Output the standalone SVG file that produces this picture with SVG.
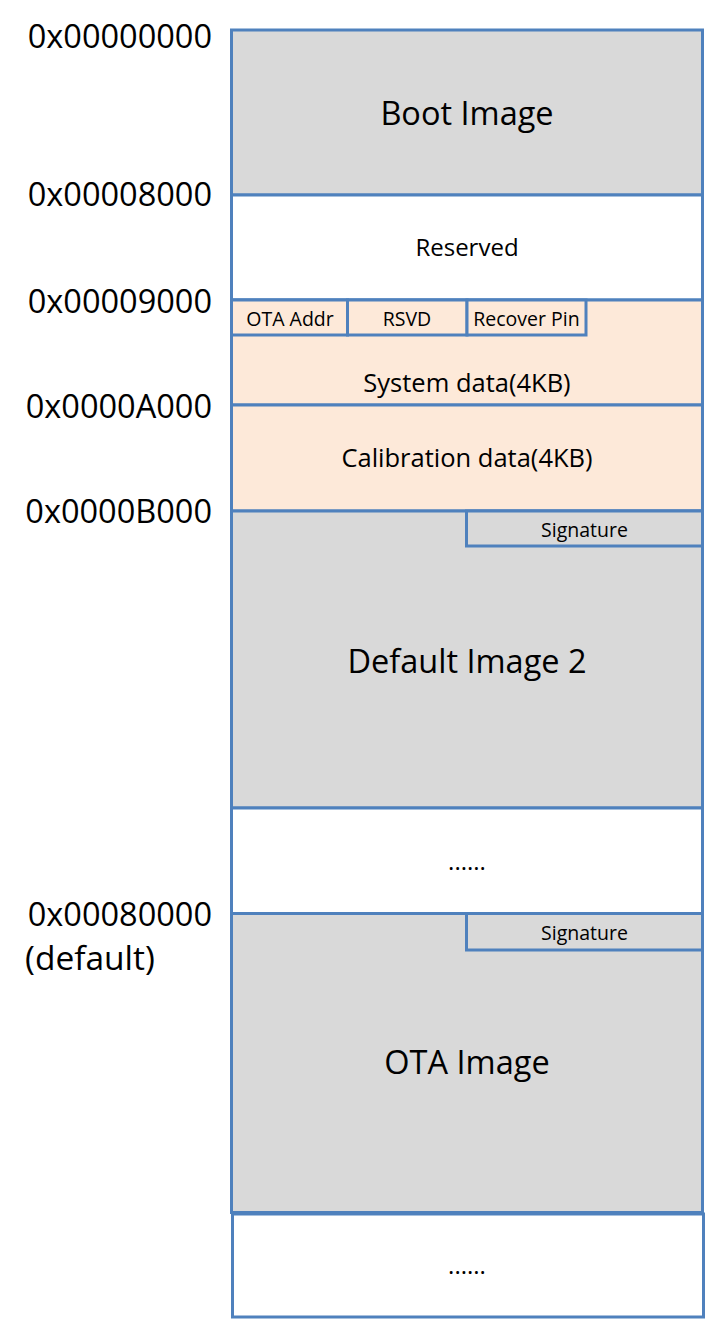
<svg xmlns="http://www.w3.org/2000/svg" width="707" height="1321" viewBox="0 0 707 1321">
<style>
  .blk { stroke: #4F81BD; stroke-width: 3; }
  .gray { fill: #D9D9D9; }
  .white { fill: #FFFFFF; }
  .peach { fill: #FDE9D9; }
  text { font-family: "Open Sans", "Liberation Sans", sans-serif; fill: #000000; }
  .big { font-size: 32.5px; text-anchor: middle; }
  .mid { font-size: 24px; text-anchor: middle; }
  .mid2 { font-size: 25.5px; text-anchor: middle; }
  .small { font-size: 19.5px; text-anchor: middle; }
  .addr { font-size: 32.5px; text-anchor: end; }
</style>
<rect x="0" y="0" width="707" height="1321" fill="#FFFFFF"/>
<g id="addresses">
  <text class="addr" x="212" y="48">0x00000000</text>
  <text class="addr" x="212" y="206">0x00008000</text>
  <text class="addr" x="212" y="313">0x00009000</text>
  <text class="addr" x="212" y="418">0x0000A000</text>
  <text class="addr" x="212" y="523">0x0000B000</text>
  <text class="addr" x="212" y="926">0x00080000</text>
  <text style="font-size:33.5px" x="25" y="970">(default)</text>
</g>
<g id="boot-image">
  <rect class="blk gray" x="231.5" y="30" width="471" height="165"/>
  <text class="big" x="467" y="125">Boot Image</text>
</g>
<g id="reserved">
  <rect class="blk white" x="231.5" y="195" width="471" height="105"/>
  <text class="mid" x="467" y="256">Reserved</text>
</g>
<g id="system-data">
  <rect class="blk peach" x="231.5" y="300" width="471" height="105"/>
  <text class="mid2" x="467" y="392">System data(4KB)</text>
</g>
<g id="ota-addr">
  <rect class="blk peach" x="231.5" y="300" width="116" height="35"/>
  <text class="small" x="290" y="326">OTA Addr</text>
</g>
<g id="rsvd">
  <rect class="blk peach" x="347.5" y="300" width="119.5" height="35"/>
  <text class="small" x="407" y="326">RSVD</text>
</g>
<g id="recover-pin">
  <rect class="blk peach" x="467" y="300" width="119" height="35"/>
  <text class="small" x="526.5" y="326">Recover Pin</text>
</g>
<g id="calibration-data">
  <rect class="blk peach" x="231.5" y="405" width="471" height="106"/>
  <text class="mid2" x="467" y="467">Calibration data(4KB)</text>
</g>
<g id="default-image-2">
  <rect class="blk gray" x="231.5" y="511" width="471" height="297"/>
  <text class="big" x="467" y="673">Default Image 2</text>
</g>
<g id="signature-1">
  <rect class="blk gray" x="466.5" y="511" width="236" height="35"/>
  <text class="small" x="584.5" y="537">Signature</text>
</g>
<g id="gap-1">
  <rect class="blk white" x="231.5" y="808" width="471" height="105.5"/>
  <text class="mid" x="467" y="870">......</text>
</g>
<g id="ota-image">
  <rect class="blk gray" x="231.5" y="913.5" width="471" height="299"/>
  <text class="big" x="467" y="1074">OTA Image</text>
</g>
<g id="signature-2">
  <rect class="blk gray" x="466.5" y="913.5" width="236" height="36.5"/>
  <text class="small" x="584.5" y="940">Signature</text>
</g>
<g id="gap-2">
  <rect class="blk white" x="232.5" y="1214" width="471" height="103"/>
  <text class="mid" x="467" y="1274">......</text>
</g>
<g id="connectors"></g>
</svg>
